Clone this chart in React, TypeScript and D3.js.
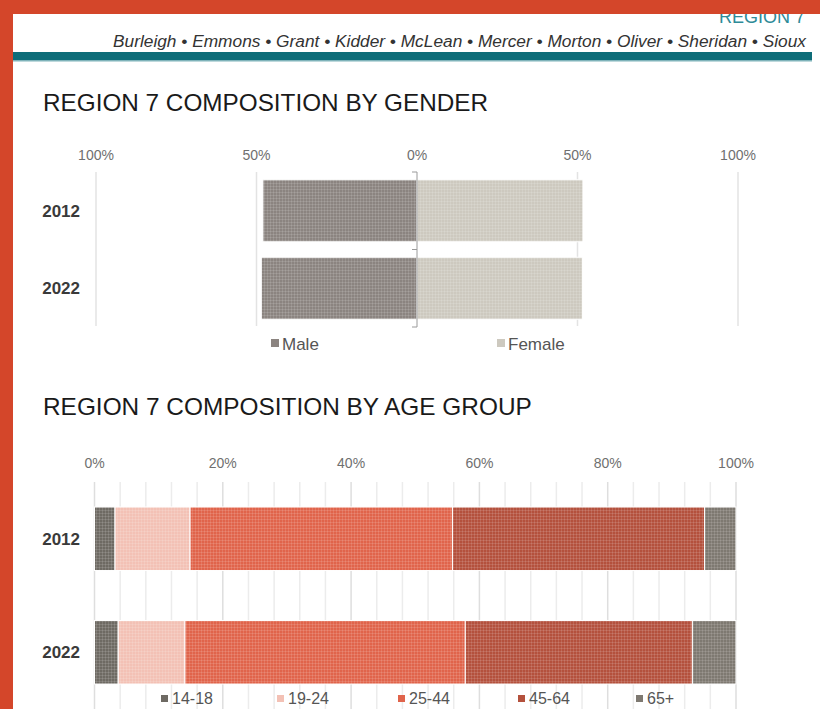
import * as d3 from "d3";

const years = ["2012", "2022"];
const malePct = [48.0, 48.5];
const femalePct = [51.7, 51.5];
const genderTicks = [-100, -50, 0, 50, 100];

const ageGroups = ["14-18", "19-24", "25-44", "45-64", "65+"];
const age2012 = [3.2, 11.7, 40.9, 39.3, 4.9];
const age2022 = [3.7, 10.4, 43.7, 35.4, 6.8];
const ageColors = ["#6e6a63", "#f3c1b5", "#e0644b", "#b4513d", "#7e7971"];
const ageTicks = [0, 20, 40, 60, 80, 100];

const counties = "Burleigh • Emmons • Grant • Kidder • McLean • Mercer • Morton • Oliver  • Sheridan • Sioux";

const FONT = "'Liberation Sans', Arial, sans-serif";

function Pattern({ id, color }: { id: string; color: string }) {
  return (
    <pattern id={id} width={3} height={3} patternUnits="userSpaceOnUse">
      <rect width={3} height={3} fill={color} />
      <rect width={3} height={1} fill="#fff" opacity={0.12} />
      <rect width={1} height={3} fill="#fff" opacity={0.12} />
    </pattern>
  );
}

export default function App() {
  // gender chart
  const gx = d3.scaleLinear().domain([-100, 100]).range([96, 738]);
  const gy = d3.scaleBand().domain(years).range([172, 327]).paddingInner(0.2).paddingOuter(0.1);
  const genderColors = { male: "#8b8480", female: "#cdc9bf" };

  // age chart
  const ax = d3.scaleLinear().domain([0, 100]).range([94.5, 736]);
  const ay = d3.scaleBand().domain(years).range([482, 709]).paddingInner(0.44).paddingOuter(0.22);
  const ageRows = [age2012, age2022].map((vals, r) => {
    const cum = d3.cumsum(vals);
    return vals.map((v, i) => ({ year: years[r], i, x0: cum[i] - v, x1: cum[i] }));
  });

  const genderLegend = [
    { label: "Male", color: genderColors.male, x: 271 },
    { label: "Female", color: genderColors.female, x: 497 },
  ];
  const ageLegendX = [161, 277, 398, 518, 636];

  return (
    <svg width={820} height={709} style={{ position: "absolute", left: 0, top: 0, fontFamily: FONT }}>
      <defs>
        <Pattern id="p-male" color={genderColors.male} />
        <Pattern id="p-female" color={genderColors.female} />
        {ageColors.map((c, i) => (
          <Pattern key={i} id={`p-age${i}`} color={c} />
        ))}
      </defs>
      <rect width={820} height={709} fill="#d4462a" />
      <rect x={13} y={14} width={807} height={695} fill="#fff" />

      {/* header */}
      <text x={805} y={23} textAnchor="end" fontSize={18} fill="#2e8b98">REGION 7</text>
      <rect x={0} y={0} width={820} height={14} fill="#d4462a" />
      <text x={806} y={47} textAnchor="end" fontSize={17.3} fontStyle="italic" fill="#333"
        textLength={693} lengthAdjust="spacingAndGlyphs">{counties}</text>
      <rect x={13} y={52} width={799} height={8} fill="#0e6d79" />
      <rect x={13} y={60} width={799} height={1.5} fill="#7fb3ba" />

      {/* gender chart */}
      <text x={43} y={111} fontSize={24.3} fill="#1a1a1a">REGION 7 COMPOSITION BY GENDER</text>
      {genderTicks.map((t) => (
        <g key={t}>
          {t !== 0 && <line x1={gx(t)} x2={gx(t)} y1={172} y2={326} stroke="#e3e3e3" strokeWidth={1.5} />}
          <text x={gx(t)} y={160} textAnchor="middle" fontSize={14} fill="#6f6f6f">{Math.abs(t)}%</text>
        </g>
      ))}
      {years.map((yr, i) => (
        <g key={yr}>
          <rect x={gx(-malePct[i])} y={gy(yr)!} width={gx(0) - gx(-malePct[i])} height={gy.bandwidth()}
            fill="url(#p-male)" stroke="#fff" strokeWidth={1} />
          <rect x={gx(0)} y={gy(yr)!} width={gx(femalePct[i]) - gx(0)} height={gy.bandwidth()}
            fill="url(#p-female)" stroke="#fff" strokeWidth={1} />
          <text x={80} y={gy(yr)! + gy.bandwidth() / 2 + 6} textAnchor="end" fontSize={17} fontWeight="bold" fill="#3a3a3a">{yr}</text>
        </g>
      ))}
      <line x1={gx(0)} x2={gx(0)} y1={172} y2={327} stroke="#9a9a9a" strokeWidth={1} />
      {[172, 249.5, 327].map((y) => (
        <line key={y} x1={gx(0) - 5} x2={gx(0)} y1={y} y2={y} stroke="#9a9a9a" strokeWidth={1} />
      ))}
      {genderLegend.map((l) => (
        <g key={l.label}>
          <rect x={l.x} y={339} width={8} height={8} fill={l.color} />
          <text x={l.x + 11} y={350} fontSize={17} fill="#555">{l.label}</text>
        </g>
      ))}

      {/* age chart */}
      <text x={43} y={415} fontSize={24.4} fill="#1a1a1a">REGION 7 COMPOSITION BY AGE GROUP</text>
      {d3.range(0, 101, 4).map((t) => (
        <line key={t} x1={ax(t)} x2={ax(t)} y1={482} y2={709} stroke={t % 20 === 0 ? "#dedede" : "#ececec"} strokeWidth={1.5} />
      ))}
      {ageTicks.map((t) => (
        <text key={t} x={ax(t)} y={468} textAnchor="middle" fontSize={14} fill="#6f6f6f">{t}%</text>
      ))}
      {ageRows.map((row) => (
        <g key={row[0].year}>
          {row.map((s) => (
            <rect key={s.i} x={ax(s.x0)} y={ay(s.year)!} width={ax(s.x1) - ax(s.x0)} height={ay.bandwidth()}
              fill={`url(#p-age${s.i})`} stroke="#fff" strokeWidth={1} />
          ))}
          <text x={80} y={ay(row[0].year)! + ay.bandwidth() / 2 + 6} textAnchor="end" fontSize={17} fontWeight="bold" fill="#3a3a3a">{row[0].year}</text>
        </g>
      ))}
      {ageGroups.map((g, i) => (
        <g key={g}>
          <rect x={ageLegendX[i]} y={695} width={7} height={7} fill={ageColors[i]} />
          <text x={ageLegendX[i] + 11} y={704} fontSize={16} fill="#555">{g}</text>
        </g>
      ))}
    </svg>
  );
}
